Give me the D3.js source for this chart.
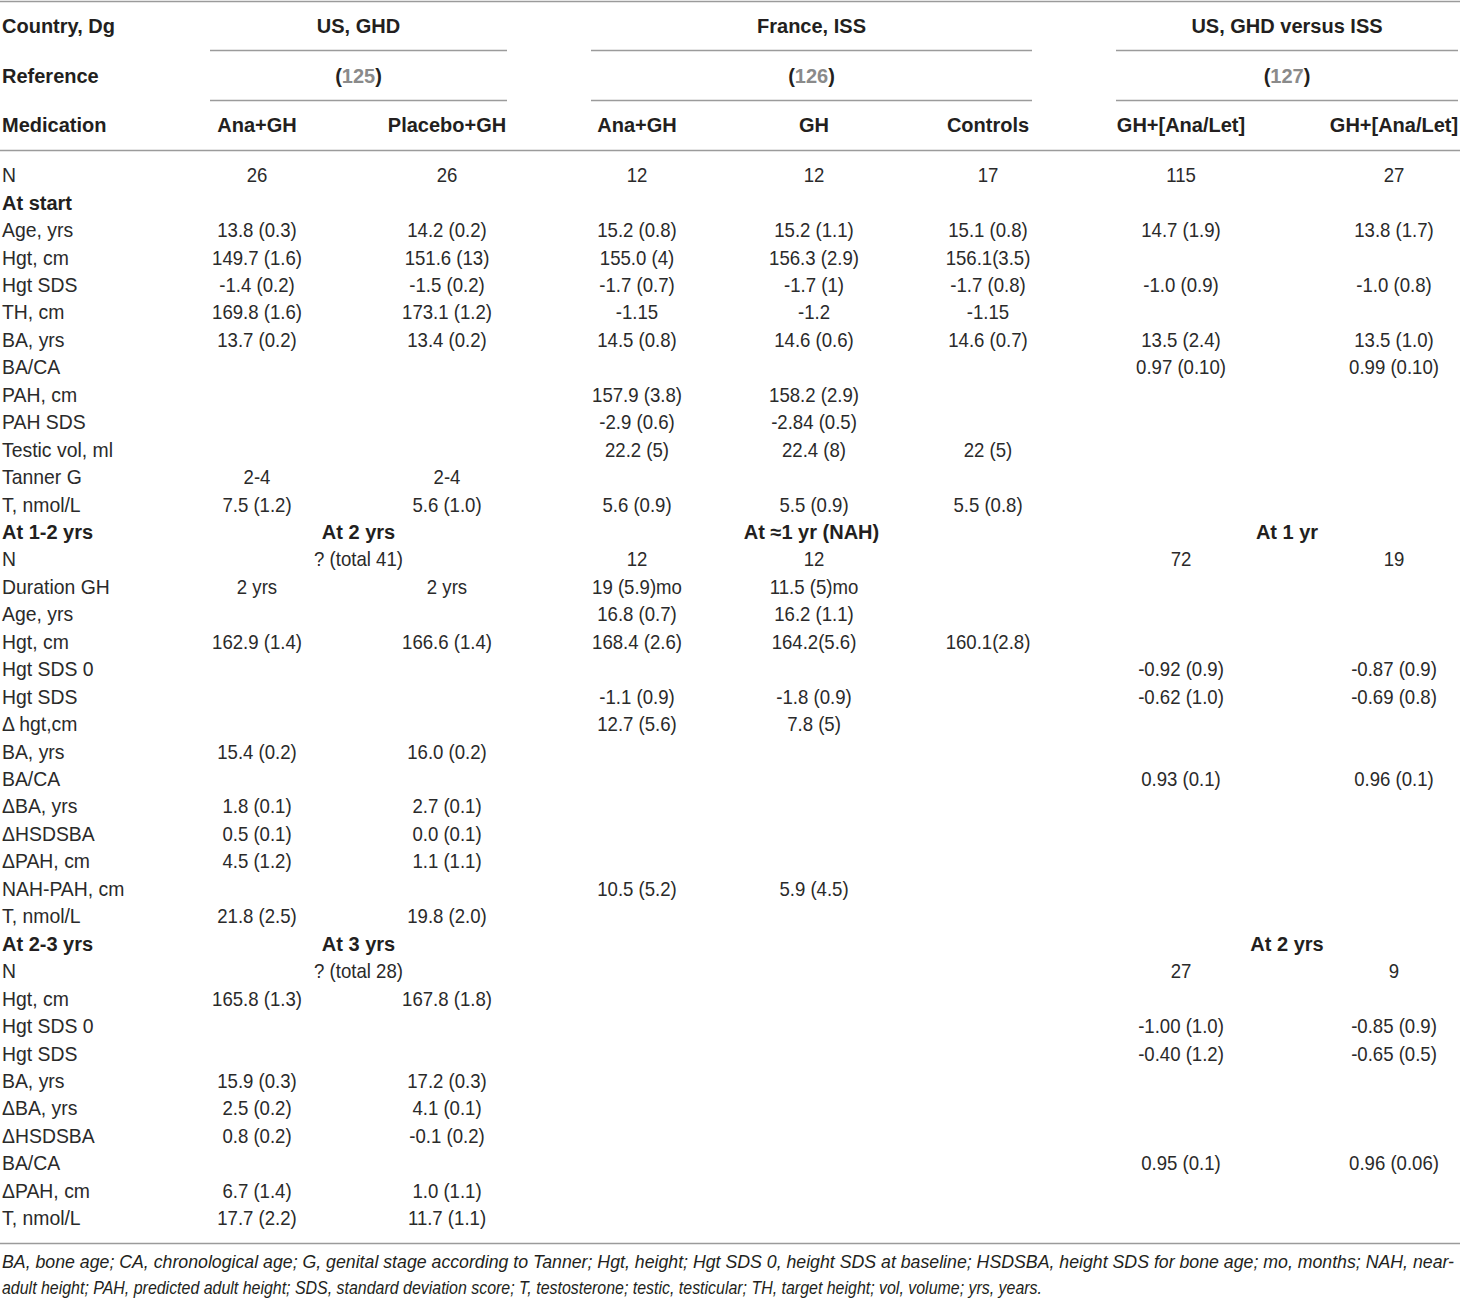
<!DOCTYPE html>
<html>
<head>
<meta charset="utf-8">
<script src="https://cdn.jsdelivr.net/npm/d3@7"></script>
<style>
  body { margin: 0; background: #fff; }
</style>
</head>
<body>
<div id="table"></div>
<script>
// Table content
const headerLabels = ["Country, Dg", "Reference", "Medication"];
const groups = ["US, GHD", "France, ISS", "US, GHD versus ISS"];
const groupRefs = ["125", "126", "127"];
const columns = ["usAna", "usPlacebo", "frAna", "frGH", "frControls", "vsA", "vsB"];
const columnNames = ["Ana+GH", "Placebo+GH", "Ana+GH", "GH", "Controls", "GH+[Ana/Let]", "GH+[Ana/Let]"];

const rowLabels = [
    "N", "At start", "Age, yrs", "Hgt, cm", "Hgt SDS", "TH, cm", "BA, yrs", "BA/CA", "PAH, cm", "PAH SDS",
    "Testic vol, ml", "Tanner G", "T, nmol/L", "At 1-2 yrs", "N", "Duration GH", "Age, yrs", "Hgt, cm",
    "Hgt SDS 0", "Hgt SDS", "\u0394 hgt,cm", "BA, yrs", "BA/CA", "\u0394BA, yrs", "\u0394HSDSBA", "\u0394PAH, cm",
    "NAH-PAH, cm", "T, nmol/L", "At 2-3 yrs", "N", "Hgt, cm", "Hgt SDS 0", "Hgt SDS", "BA, yrs",
    "\u0394BA, yrs", "\u0394HSDSBA", "BA/CA", "\u0394PAH, cm", "T, nmol/L"
];
const sectionRows = [1, 13, 28];

const usAna = [
    "26", "", "13.8 (0.3)", "149.7 (1.6)", "-1.4 (0.2)", "169.8 (1.6)", "13.7 (0.2)", "", "", "",
    "", "2-4", "7.5 (1.2)", "", "", "2 yrs", "", "162.9 (1.4)",
    "", "", "", "15.4 (0.2)", "", "1.8 (0.1)", "0.5 (0.1)", "4.5 (1.2)",
    "", "21.8 (2.5)", "", "", "165.8 (1.3)", "", "", "15.9 (0.3)",
    "2.5 (0.2)", "0.8 (0.2)", "", "6.7 (1.4)", "17.7 (2.2)"
];
const usPlacebo = [
    "26", "", "14.2 (0.2)", "151.6 (13)", "-1.5 (0.2)", "173.1 (1.2)", "13.4 (0.2)", "", "", "",
    "", "2-4", "5.6 (1.0)", "", "", "2 yrs", "", "166.6 (1.4)",
    "", "", "", "16.0 (0.2)", "", "2.7 (0.1)", "0.0 (0.1)", "1.1 (1.1)",
    "", "19.8 (2.0)", "", "", "167.8 (1.8)", "", "", "17.2 (0.3)",
    "4.1 (0.1)", "-0.1 (0.2)", "", "1.0 (1.1)", "11.7 (1.1)"
];
const frAna = [
    "12", "", "15.2 (0.8)", "155.0 (4)", "-1.7 (0.7)", "-1.15", "14.5 (0.8)", "", "157.9 (3.8)", "-2.9 (0.6)",
    "22.2 (5)", "", "5.6 (0.9)", "", "12", "19 (5.9)mo", "16.8 (0.7)", "168.4 (2.6)",
    "", "-1.1 (0.9)", "12.7 (5.6)", "", "", "", "", "",
    "10.5 (5.2)", "", "", "", "", "", "", "",
    "", "", "", "", ""
];
const frGH = [
    "12", "", "15.2 (1.1)", "156.3 (2.9)", "-1.7 (1)", "-1.2", "14.6 (0.6)", "", "158.2 (2.9)", "-2.84 (0.5)",
    "22.4 (8)", "", "5.5 (0.9)", "", "12", "11.5 (5)mo", "16.2 (1.1)", "164.2(5.6)",
    "", "-1.8 (0.9)", "7.8 (5)", "", "", "", "", "",
    "5.9 (4.5)", "", "", "", "", "", "", "",
    "", "", "", "", ""
];
const frControls = [
    "17", "", "15.1 (0.8)", "156.1(3.5)", "-1.7 (0.8)", "-1.15", "14.6 (0.7)", "", "", "",
    "22 (5)", "", "5.5 (0.8)", "", "", "", "", "160.1(2.8)",
    "", "", "", "", "", "", "", "",
    "", "", "", "", "", "", "", "",
    "", "", "", "", ""
];
const vsA = [
    "115", "", "14.7 (1.9)", "", "-1.0 (0.9)", "", "13.5 (2.4)", "0.97 (0.10)", "", "",
    "", "", "", "", "72", "", "", "",
    "-0.92 (0.9)", "-0.62 (1.0)", "", "", "0.93 (0.1)", "", "", "",
    "", "", "", "27", "", "-1.00 (1.0)", "-0.40 (1.2)", "",
    "", "", "0.95 (0.1)", "", ""
];
const vsB = [
    "27", "", "13.8 (1.7)", "", "-1.0 (0.8)", "", "13.5 (1.0)", "0.99 (0.10)", "", "",
    "", "", "", "", "19", "", "", "",
    "-0.87 (0.9)", "-0.69 (0.8)", "", "", "0.96 (0.1)", "", "", "",
    "", "", "", "9", "", "-0.85 (0.9)", "-0.65 (0.5)", "",
    "", "", "0.96 (0.06)", "", ""
];
const columnValues = [usAna, usPlacebo, frAna, frGH, frControls, vsA, vsB];

// Cells that span a whole study group: [row, group index, text, bold]
const spanCells = [
    [13, 0, "At 2 yrs", true],
    [13, 1, "At \u22481 yr (NAH)", true],
    [13, 2, "At 1 yr", true],
    [14, 0, "? (total 41)", false],
    [28, 0, "At 3 yrs", true],
    [28, 2, "At 2 yrs", true],
    [29, 0, "? (total 28)", false]
];

const footnoteLines = [
    "BA, bone age; CA, chronological age; G, genital stage according to Tanner; Hgt, height; Hgt SDS 0, height SDS at baseline; HSDSBA, height SDS for bone age; mo, months; NAH, near-",
    "adult height; PAH, predicted adult height; SDS, standard deviation score; T, testosterone; testic, testicular; TH, target height; vol, volume; yrs, years."
];

// Layout
const width = 1460;
const height = 1299;
const fontSize = 20;
const textColor = "#231f20";
const ruleColor = "#9b9b9b";

const svg = d3.select("#table")
    .append("svg")
    .attr("width", width)
    .attr("height", height)
    .style("font-family", "'Liberation Sans', Arial, sans-serif");

svg.append("rect")
    .attr("width", width)
    .attr("height", height)
    .attr("fill", "#fff");

// Scales
const yHead = d3.scalePoint().domain(headerLabels).range([26, 125]);
const yRow = d3.scalePoint().domain(d3.range(rowLabels.length)).range([175, 1218]);
const xCol = d3.scaleOrdinal().domain(columns).range([257, 447, 637, 814, 988, 1181, 1394]);
const groupSpan = d3.scaleOrdinal().domain(groups).range([[210, 507], [591, 1032], [1116, 1458]]);
const groupCenter = g => d3.mean(groupSpan(g));

// Regular text is drawn slightly condensed, like the source typeface
function plainText(sel, x, y, txt, anchor, sx = 0.93) {
    return sel.append("text")
        .attr("transform", `translate(${x},${y}) scale(${sx},1)`)
        .attr("dy", "0.36em")
        .attr("text-anchor", anchor)
        .attr("font-size", fontSize)
        .attr("fill", "#2a2a2a")
        .text(txt);
}

function boldText(sel, x, y, txt, anchor) {
    return sel.append("text")
        .attr("x", x)
        .attr("y", y)
        .attr("dy", "0.36em")
        .attr("text-anchor", anchor)
        .attr("font-size", fontSize)
        .attr("font-weight", "bold")
        .attr("fill", textColor)
        .text(txt);
}

// Horizontal rules
const rules = svg.append("g").attr("stroke", ruleColor).attr("stroke-width", 1.5);
rules.append("line").attr("x1", 0).attr("x2", width).attr("y1", 1.5).attr("y2", 1.5);
rules.append("line").attr("x1", 0).attr("x2", width).attr("y1", 150.5).attr("y2", 150.5);
rules.append("line").attr("x1", 0).attr("x2", width).attr("y1", 1243.5).attr("y2", 1243.5);
groups.forEach(g => {
    const [a, b] = groupSpan(g);
    [50.5, 100.5].forEach(yy => {
        rules.append("line").attr("x1", a).attr("x2", b).attr("y1", yy).attr("y2", yy);
    });
});

// Header rows
const head = svg.append("g");
headerLabels.forEach(h => boldText(head, 2, yHead(h), h, "start"));

groups.forEach((g, i) => {
    boldText(head, groupCenter(g), yHead("Country, Dg"), g, "middle");
    const ref = boldText(head, groupCenter(g), yHead("Reference"), "", "middle");
    ref.append("tspan").text("(");
    ref.append("tspan").attr("fill", "#8a8a8a").text(groupRefs[i]);
    ref.append("tspan").text(")");
});

columns.forEach((c, i) => boldText(head, xCol(c), yHead("Medication"), columnNames[i], "middle"));

// Body rows (row labels a little wider than the numbers)
const body = svg.append("g");
rowLabels.forEach((label, r) => {
    if (sectionRows.includes(r)) {
        boldText(body, 2, yRow(r), label, "start");
    } else {
        plainText(body, 2, yRow(r), label, "start", 0.97);
    }
});

columns.forEach((c, i) => {
    columnValues[i].forEach((v, r) => {
        if (v !== "") plainText(body, xCol(c), yRow(r), v, "middle");
    });
});

spanCells.forEach(([r, gi, txt, bold]) => {
    const cx = groupCenter(groups[gi]);
    if (bold) boldText(body, cx, yRow(r), txt, "middle");
    else plainText(body, cx, yRow(r), txt, "middle");
});

// Footnote
const foot = svg.append("g");
const footEnds = [1454, 1042];
footnoteLines.forEach((line, i) => {
    foot.append("text")
        .attr("x", 2)
        .attr("y", 1262 + i * 26)
        .attr("dy", "0.36em")
        .attr("font-size", 17.5)
        .attr("font-style", "italic")
        .attr("fill", textColor)
        .attr("textLength", footEnds[i] - 2)
        .attr("lengthAdjust", "spacingAndGlyphs")
        .text(line);
});
</script>
</body>
</html>
